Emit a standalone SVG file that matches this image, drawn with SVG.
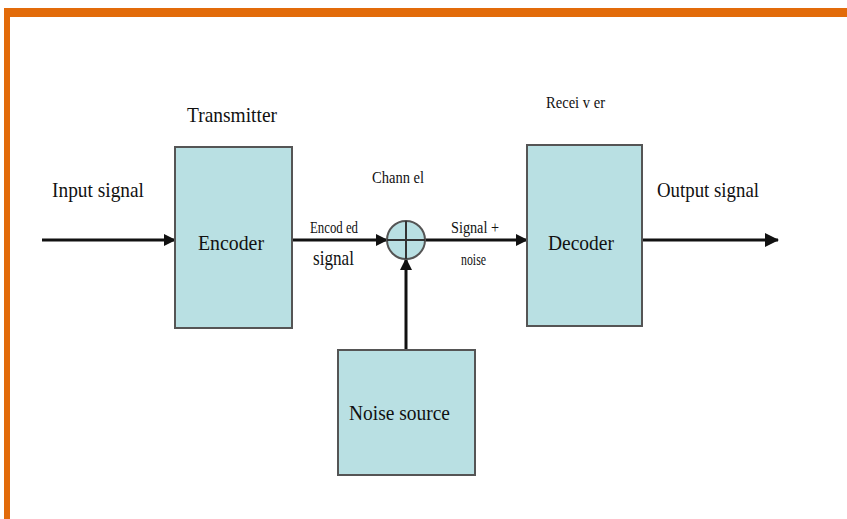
<svg xmlns="http://www.w3.org/2000/svg" width="847" height="519" viewBox="0 0 847 519">
<style>
.box{fill:#b9e0e3;stroke:#555;stroke-width:2}
.ln{stroke:#111;stroke-width:3;fill:none}
text{font-family:"Liberation Serif",serif;fill:#111}
.big{font-size:21px}
.sm{font-size:16px}
</style>
<defs>
<marker id="ah" markerWidth="12" markerHeight="12" refX="11" refY="6" orient="auto" markerUnits="userSpaceOnUse" viewBox="0 0 12 12">
<path d="M0,0 L12,6 L0,12 z" fill="#111"/>
</marker>
<marker id="ah2" markerWidth="14" markerHeight="14" refX="13" refY="7" orient="auto" markerUnits="userSpaceOnUse" viewBox="0 0 14 14">
<path d="M0,0 L14,7 L0,14 z" fill="#111"/>
</marker>
</defs>
<rect x="4" y="8" width="843" height="9" fill="#e26b0a"/>
<rect x="4" y="8" width="6" height="511" fill="#e26b0a"/>
<g id="connectors">
<line class="ln" x1="42" y1="240" x2="175" y2="240" marker-end="url(#ah)"/>
<line class="ln" x1="292" y1="240" x2="387" y2="240" marker-end="url(#ah)"/>
<line class="ln" x1="425" y1="240" x2="527" y2="240" marker-end="url(#ah)"/>
<line class="ln" x1="642" y1="240" x2="778" y2="240" marker-end="url(#ah2)"/>
<line class="ln" x1="406" y1="350" x2="406" y2="259" marker-end="url(#ah)"/>
</g>
<g id="encoder">
<rect class="box" x="175" y="147" width="117" height="181"/>
<text class="big" x="198" y="250" textLength="66" lengthAdjust="spacingAndGlyphs">Encoder</text>
</g>
<g id="channel">
<circle cx="406" cy="240" r="19" fill="#b9e0e3" stroke="#555" stroke-width="2"/>
<line x1="387" y1="240" x2="425" y2="240" stroke="#333" stroke-width="2"/>
<line x1="406" y1="221" x2="406" y2="259" stroke="#333" stroke-width="2"/>
</g>
<g id="decoder">
<rect class="box" x="527" y="145" width="115" height="181"/>
<text class="big" x="548" y="250" textLength="66" lengthAdjust="spacingAndGlyphs">Decoder</text>
</g>
<g id="noise">
<rect class="box" x="338" y="350" width="137" height="125"/>
<text class="big" x="349" y="420" textLength="101" lengthAdjust="spacingAndGlyphs">Noise source</text>
</g>
<g id="labels">
<text class="big" x="52" y="197" textLength="92" lengthAdjust="spacingAndGlyphs">Input signal</text>
<text class="big" x="187" y="122" textLength="90" lengthAdjust="spacingAndGlyphs">Transmitter</text>
<text class="sm" x="372" y="183" textLength="52" lengthAdjust="spacingAndGlyphs">Chann el</text>
<text class="sm" x="546" y="108" textLength="59" lengthAdjust="spacingAndGlyphs">Recei v er</text>
<text class="big" x="657" y="197" textLength="102" lengthAdjust="spacingAndGlyphs">Output signal</text>
<text class="sm" x="310" y="233" textLength="48" lengthAdjust="spacingAndGlyphs">Encod ed</text>
<text class="big" x="313" y="265" font-size="18" textLength="41" lengthAdjust="spacingAndGlyphs">signal</text>
<text class="sm" x="451" y="233" textLength="48" lengthAdjust="spacingAndGlyphs">Signal  +</text>
<text class="sm" x="461" y="265" textLength="25" lengthAdjust="spacingAndGlyphs">noise</text>
</g>
</svg>
